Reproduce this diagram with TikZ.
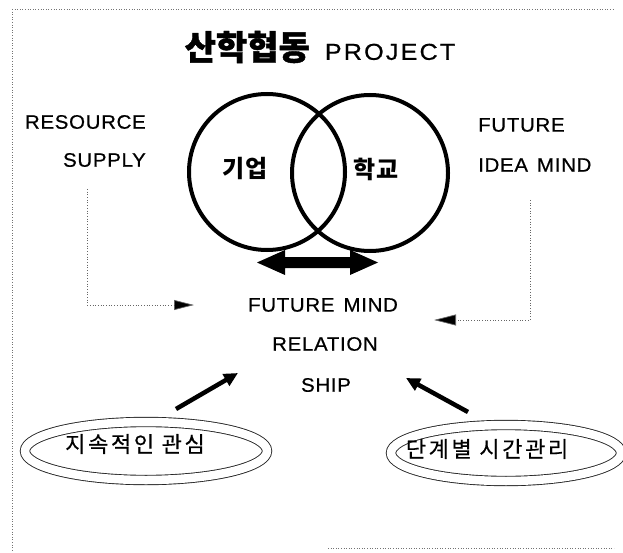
\documentclass[tikz,border=0pt]{standalone}
\usepackage{fontspec}
\setmainfont{Liberation Sans}
\newfontfamily\kr{Noto Sans CJK KR}
\usetikzlibrary{arrows.meta,shapes.geometric}
\newcommand\wgap{\hspace{9pt}}
\tikzset{
  lbl/.style={inner sep=0pt, font=\fontsize{19.5}{22}\selectfont\addfontfeatures{LetterSpace=3.5,FakeStretch=1.05,FakeBold=0.6}},
  krlbl/.style={inner sep=0pt, font=\kr\fontsize{22}{24}\selectfont\addfontfeatures{LetterSpace=12,FakeBold=0.5}},
  ring/.style={circle, draw, line width=4pt, minimum size=156pt, inner sep=0pt},
  dbl/.style={ellipse, draw=black!85, line width=0.9pt, double=white, double distance=8.5pt, inner sep=0pt},
  frame/.style={draw=black!55, dotted, line width=0.6pt},
  feed/.style={draw=black!60, dotted, line width=0.7pt, -{Triangle[length=20pt,width=10pt,fill=black]}},
  push/.style={draw, line width=4.5pt, -{Triangle[length=14pt,width=13pt]}}
}
\begin{document}
\begin{tikzpicture}[x=1pt,y=-1pt]
\useasboundingbox (0,0) rectangle (623,553);
% frame fragments
\draw[frame] (12,9) -- (613,9);
\draw[frame] (12,9) -- (12,550);
\draw[frame] (328,548) -- (614,548);
% title
\node[inner sep=0pt] (title) at (320,47) {{\kr\bfseries\fontsize{34}{36}\selectfont\addfontfeatures{FakeBold=1.2}산학협동}\hspace{15pt}{\fontsize{23}{26}\selectfont\addfontfeatures{LetterSpace=9,FakeStretch=1.1,FakeBold=0.6}PROJECT}};
% circles
\node[ring] (cL) at (267,172) {};
\node[ring] (cR) at (370,173) {};
\node[inner sep=0pt, font=\kr\bfseries\fontsize{24}{26}\selectfont] (kiup) at (245,169) {기업};
\node[inner sep=0pt, font=\kr\bfseries\fontsize{24}{26}\selectfont] (hakgyo) at (376,169) {학교};
% double block arrow
\fill (257,262.5) -- (285,250) -- (285,257) -- (350,257) -- (350,250) -- (378,262.5)
  -- (350,275) -- (350,268) -- (285,268) -- (285,275) -- cycle;
% side labels
\node[lbl, anchor=east] (resource) at (146,122) {RESOURCE};
\node[lbl, anchor=east] (supply) at (146,160) {SUPPLY};
\node[lbl, anchor=west] (future) at (478,125) {FUTURE};
\node[lbl, anchor=west] (idea) at (478,165) {IDEA\wgap MIND};
% center labels
\node[lbl] (fm) at (323,305) {FUTURE\wgap MIND};
\node[lbl] (rel) at (325,344) {RELATION};
\node[lbl] (ship) at (326,385) {SHIP};
% dotted feed connectors
\coordinate (lsrc) at (87,189);
\coordinate (ltip) at (194,305);
\coordinate (rsrc) at (530,200);
\coordinate (rtip) at (434,320);
\draw[feed] (lsrc) |- (ltip);
\draw[feed, -{Triangle[length=22pt,width=11pt,fill=black]}] (rsrc) |- (rtip);
% ellipses
\node[dbl, minimum width=242pt, minimum height=58pt] (eL) at (146,451) {};
\node[dbl, minimum width=230pt, minimum height=56pt] (eR) at (506,453) {};
\node[krlbl] (tL) at (135,444) {지속적인 관심};
\node[krlbl] (tR) at (487,449) {단계별 시간관리};
% push arrows
\coordinate (la) at (176,409);
\coordinate (lb) at (238,373);
\coordinate (ra) at (468,412);
\coordinate (rb) at (406,378);
\draw[push] (la) -- (lb);
\draw[push] (ra) -- (rb);
\end{tikzpicture}
\end{document}
